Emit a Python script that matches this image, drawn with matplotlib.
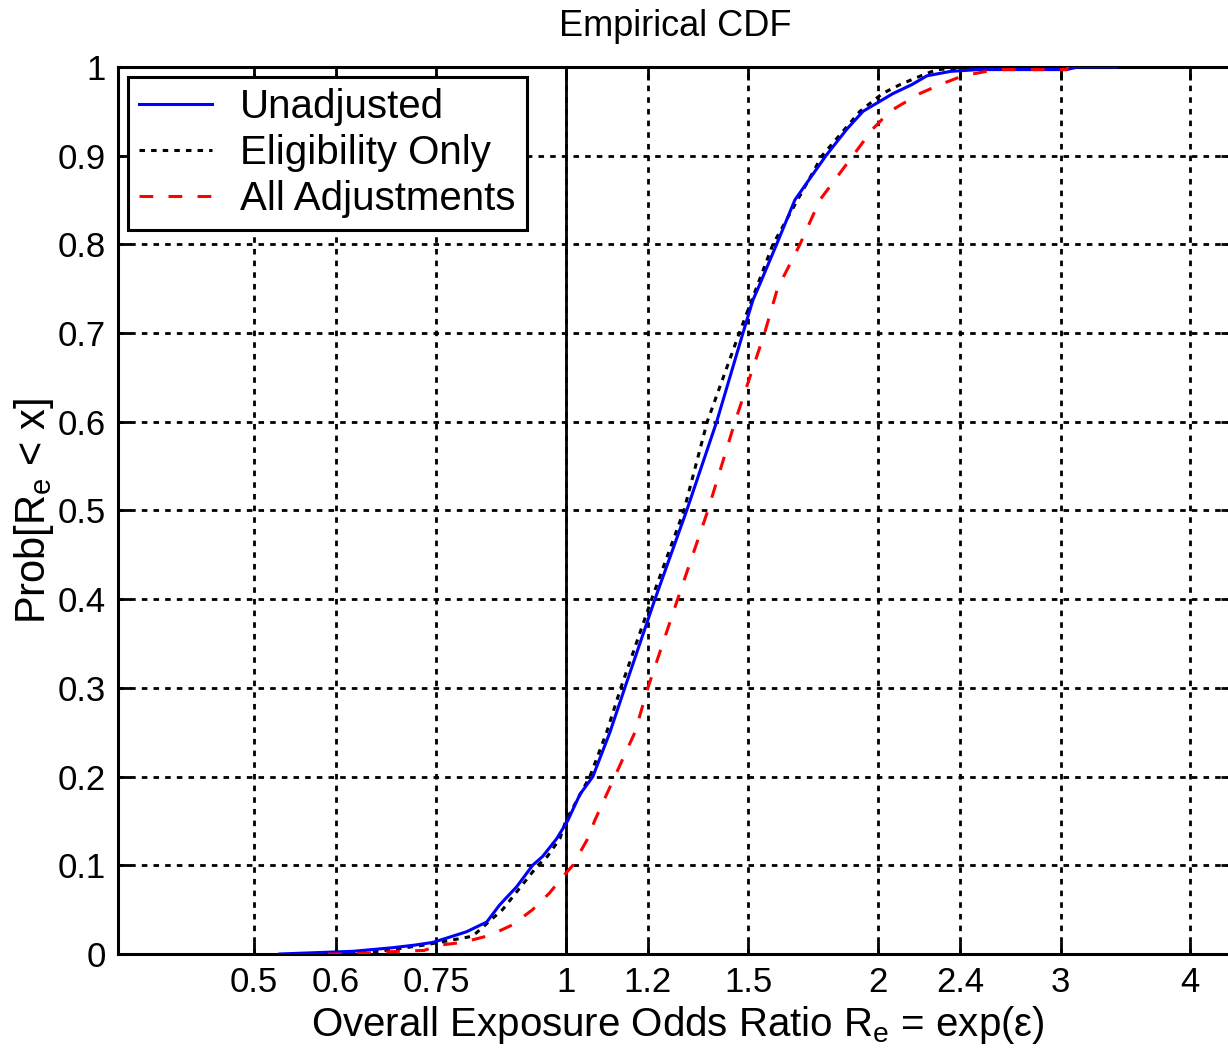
import matplotlib
matplotlib.use("Agg")
import matplotlib.pyplot as plt
from matplotlib.ticker import FixedLocator, NullLocator

# values (x = odds ratio, p = cumulative probability)
unadj_x = [0.53, 0.623, 0.68, 0.715, 0.744, 0.768, 0.802, 0.839, 0.863, 0.897,
           0.929, 0.95, 0.98, 1.004, 1.032, 1.062, 1.103, 1.14, 1.219, 1.308,
           1.398, 1.482, 1.515, 1.532, 1.597, 1.663, 1.782, 1.867, 1.935, 2.068,
           2.156, 2.23, 2.35, 2.5, 3.04, 3.12, 3.4]
unadj_p = [0.0, 0.003, 0.007, 0.010, 0.013, 0.018, 0.025, 0.036, 0.055, 0.076,
           0.10, 0.11, 0.13, 0.15, 0.18, 0.20, 0.25, 0.30, 0.40, 0.50,
           0.60, 0.70, 0.737, 0.75, 0.80, 0.85, 0.90, 0.93, 0.95, 0.97,
           0.98, 0.99, 0.995, 0.997, 0.997, 1.0, 1.0]

elig_x = [0.619, 0.66, 0.73, 0.813, 0.869, 0.94, 0.96, 0.987, 1.0, 1.055,
          1.095, 1.13, 1.21, 1.30, 1.369, 1.47, 1.584, 1.767, 1.922, 2.02,
          2.1, 2.2, 2.28, 2.5]
elig_p = [0.0, 0.003, 0.01, 0.02, 0.05, 0.10, 0.11, 0.13, 0.15, 0.20,
          0.25, 0.30, 0.40, 0.50, 0.60, 0.70, 0.80, 0.90, 0.95, 0.97,
          0.98, 0.99, 0.997, 1.0]

adj_x = [0.59, 0.61, 0.64, 0.69, 0.73, 0.756, 0.795, 0.845, 0.889, 0.929,
         0.965, 0.993, 1.016, 1.027, 1.05, 1.066, 1.095, 1.115, 1.166, 1.2,
         1.282, 1.371, 1.456, 1.555, 1.60, 1.682, 1.758, 1.892, 1.977, 2.054,
         2.195, 2.295, 2.415, 2.6, 3.04, 3.05]
adj_p = [0.0, 0.0, 0.001, 0.003, 0.004, 0.01, 0.013, 0.021, 0.033, 0.05,
         0.069, 0.087, 0.10, 0.11, 0.13, 0.15, 0.18, 0.20, 0.25, 0.30,
         0.40, 0.50, 0.60, 0.70, 0.75, 0.80, 0.85, 0.90, 0.93, 0.95,
         0.97, 0.98, 0.99, 0.997, 0.997, 1.0]

x_ticks = [0.5, 0.6, 0.75, 1, 1.2, 1.5, 2, 2.4, 3, 4]
x_tick_labels = ["0.5", "0.6", "0.75", "1", "1.2", "1.5", "2", "2.4", "3", "4"]
y_ticks = [0, 0.1, 0.2, 0.3, 0.4, 0.5, 0.6, 0.7, 0.8, 0.9, 1]
y_tick_labels = ["0", "0.1", "0.2", "0.3", "0.4", "0.5", "0.6", "0.7", "0.8", "0.9", "1"]


def main():
  plt.rcParams['font.family'] = ['Liberation Sans', 'DejaVu Sans']
  plt.rcParams['mathtext.default'] = 'regular'

  fig = plt.figure(figsize=(12.28, 10.54), dpi=100)
  ax = fig.add_axes([0.0961, 0.0949, 0.908, 0.8416])

  ax.plot(elig_x, elig_p, color='black', lw=2.2, linestyle=(0, (1.8, 2.0)),
          label='Eligibility Only', zorder=3)
  ax.plot(unadj_x, unadj_p, color='#0000ff', lw=2.2, label='Unadjusted', zorder=4)
  ax.plot(adj_x, adj_p, color='#ff0000', lw=2.2, linestyle=(0, (4.5, 5.0)),
          label='All Adjustments', zorder=5)
  ax.axvline(1, color='black', lw=2, zorder=2)

  ax.set_xscale('log')
  ax.set_xlim(0.37, 4.4)
  ax.set_ylim(0, 1)
  ax.xaxis.set_major_locator(FixedLocator(x_ticks))
  ax.xaxis.set_minor_locator(NullLocator())
  ax.set_xticklabels(x_tick_labels)
  ax.set_yticks(y_ticks)
  ax.set_yticklabels(y_tick_labels)

  ax.grid(True, color='black', lw=2, linestyle=(0, (2.0, 2.2)))
  ax.tick_params(direction='in', length=9, width=2, labelsize=25,
                 top=True, right=True, pad=9)
  for s in ax.spines.values():
    s.set_linewidth(2.2)

  ax.set_title('Empirical CDF', fontsize=26, pad=22)
  ax.set_xlabel('Overall Exposure Odds Ratio R$_e$ = exp(ε)', fontsize=29)
  ax.xaxis.set_label_coords(0.502, -0.056)
  ax.set_ylabel('Prob[R$_e$ < x]', fontsize=30)
  ax.yaxis.set_label_coords(-0.056, 0.5)

  h, l = ax.get_legend_handles_labels()
  order = [1, 0, 2]
  leg = ax.legend([h[i] for i in order], [l[i] for i in order], loc='upper left',
                  fontsize=29, fancybox=False, framealpha=1, edgecolor='black',
                  handlelength=1.8, borderaxespad=0.25, labelspacing=0.2,
                  handletextpad=0.7, borderpad=0.28)
  leg.get_frame().set_linewidth(2.2)

  fig.savefig('out.png', dpi=100)


if __name__ == "__main__":
  main()
